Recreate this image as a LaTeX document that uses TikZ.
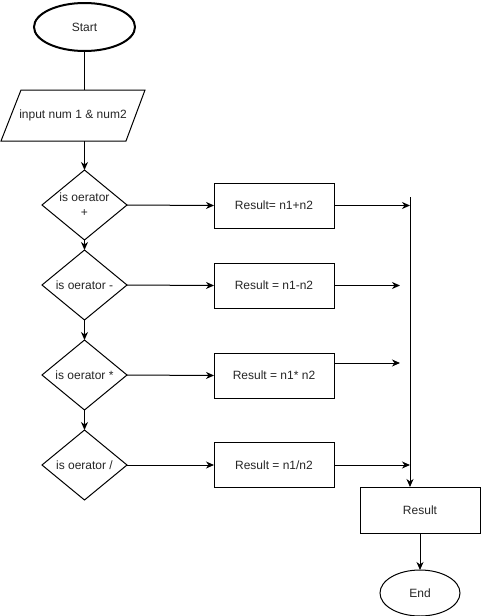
\documentclass[tikz,border=0pt]{standalone}
\usepackage{fontspec}
\setmainfont{Liberation Sans}
\usetikzlibrary{shapes.geometric,arrows.meta,calc}
\begin{document}
\begin{tikzpicture}[x=1pt,y=-1pt,line width=1pt,
  every node/.style={font=\fontsize{12}{15}\selectfont,inner sep=0pt,outer sep=0pt,text=black!85},
  term/.style={ellipse,draw,fill=white},
  dia/.style={diamond,draw,fill=white,minimum width=85pt,minimum height=70pt},
  proc/.style={rectangle,draw,fill=white,minimum width=120pt,minimum height=45pt},
  arr/.style={-{Stealth[length=8pt,width=7pt,inset=2.5pt]}},
]
\useasboundingbox (0,0) rectangle (481,616);

% terminals
\node[term,line width=2pt,minimum width=101pt,minimum height=48pt] (start) at (84.5,27) {Start};
\node[term,minimum width=80pt,minimum height=46pt] (end) at (420,593) {End};

% input parallelogram
\node[minimum width=144pt,minimum height=51pt] (inp) at (73,115.5) {input num 1 \& num2};
\draw ([xshift=20pt]inp.north west) -- (inp.north east)
      -- ([xshift=-19pt]inp.south east) -- (inp.south west) -- cycle;

% decisions
\node[dia] (d1) at (84.5,205) {};
\node[align=center] at (d1.center) {is oerator\\+};
\node[dia] (d2) at (84.5,285) {};
\node at (d2.center) {is oerator -};
\node[dia] (d3) at (84.5,375) {};
\node at (d3.center) {is oerator *};
\node[dia] (d4) at (84.5,465) {};
\node at (d4.center) {is oerator /};

% operations
\node[proc] (b1) at (274,205.5) {Result= n1+n2};
\node[proc] (b2) at (274,285.5) {Result = n1-n2};
\node[proc] (b3) at (274,375.5) {Result = n1* n2};
\node[proc] (b4) at (274,465) {Result = n1/n2};

% output
\node[proc,minimum height=46pt] (res) at (420,510) {Result};

% collector line ends
\coordinate (bustop) at (410,197);
\coordinate (t1) at (410,205.5);
\coordinate (t2) at (400,285.5);
\coordinate (t3) at (400,363);
\coordinate (t4) at (410,465);

% main flow
\draw (start.south) -- (start.south |- inp.north);
\draw[arr] (start.south |- inp.south) -- (d1.north);
\draw[arr] (d1.south) -- (d2.north);
\draw[arr] (d2.south) -- (d3.north);
\draw[arr] (d3.south) -- (d4.north);

% branches
\draw[arr] (d1.east) -- (b1.west);
\draw[arr] (d2.east) -- (b2.west);
\draw[arr] (d3.east) -- (b3.west);
\draw[arr] (d4.east) -- (b4.west);

\draw[arr] (b1.east) -- (t1);
\draw[arr] (b2.east) -- (t2);
\draw[arr] (b3.east |- t3) -- (t3);
\draw[arr] (b4.east) -- (t4);

% collector and end
\draw[arr] (bustop) -- (bustop |- res.north);
\draw[arr] (res.south) -- (end.north);
\end{tikzpicture}
\end{document}
